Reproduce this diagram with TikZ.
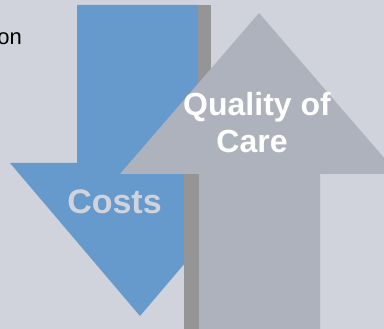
\documentclass[tikz,border=0pt]{standalone}
\usepackage{fontspec}
\setmainfont{Liberation Sans}
\definecolor{pagegray}{HTML}{D0D3DC}
\definecolor{costblue}{HTML}{6699CC}
\definecolor{caregray}{HTML}{AEB2BD}
\definecolor{shadegray}{HTML}{959595}
\tikzset{
  bigword/.style={font=\fontsize{32}{37}\selectfont\bfseries, inner sep=0pt, anchor=base}
}
\begin{document}
\begin{tikzpicture}[x=1pt,y=-1pt]

% Define page
\fill[pagegray] (0,0) rectangle (384,329);
\useasboundingbox (0,0) rectangle (384,329);
\node[font=\fontsize{22}{26}\selectfont, inner sep=0pt, anchor=base east] (cut) at (22,45) {on};

% Construct shadow behind the down arrow
\fill[shadegray] (198,5) rectangle (211,174);

% Construct down arrow
\fill[costblue] (77,5) -- (198,5) -- (198,163) -- (270,163) -- (140,316)
  -- (10,163) -- (77,163) -- cycle;
\node[bigword, font=\fontsize{34}{37}\selectfont\bfseries, text=pagegray] (costs) at (114.5,214) {Costs};

% Construct shadow beside the up arrow
\fill[shadegray] (184,174) rectangle (199,329);

% Construct up arrow
\fill[caregray] (199,329) -- (199,174) -- (120,174) -- (259,13) -- (398,174)
  -- (320,174) -- (320,329) -- cycle;
\node[bigword, text=white] (quality) at (257,116) {Quality of};
\node[bigword, text=white] (care) at (252,153) {Care};
\end{tikzpicture}
\end{document}
